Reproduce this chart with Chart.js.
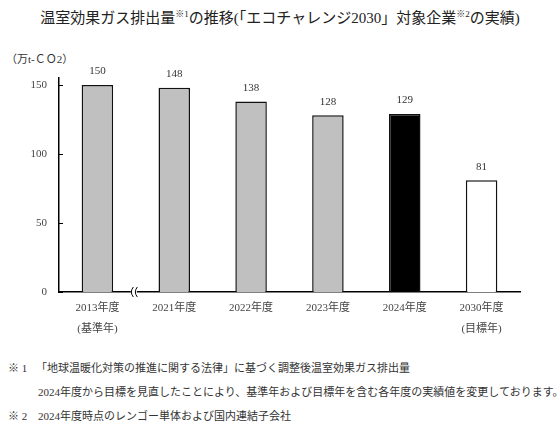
<!DOCTYPE html>
<html><head><meta charset="utf-8">
<script src="https://cdn.jsdelivr.net/npm/chart.js@4"></script>
<style>
body{margin:0;width:560px;height:431px;position:relative;background:#fff;font-family:"Liberation Serif","Noto Sans CJK JP",serif;color:#333;overflow:hidden}
#c{position:absolute;left:0;top:0}
.t{position:absolute;white-space:nowrap}
</style></head><body>
<div class="t" style="left:0;width:560px;text-align:center;top:6px;font-size:15px;color:#222">温室効果ガス排出量<sup style="font-size:9px">※1</sup>の推移(「エコチャレンジ2030」対象企業<sup style="font-size:9px">※2</sup>の実績)</div>
<div class="t" style="left:6px;top:50px;font-size:11px">（万t-ＣＯ2）</div>
<canvas id="c" width="560" height="340"></canvas>
<div class="t" style="left:8px;top:359px;font-size:11px">※ 1</div>
<div class="t" style="left:36px;top:359px;font-size:11px">「地球温暖化対策の推進に関する法律」に基づく調整後温室効果ガス排出量</div>
<div class="t" style="left:38px;top:383px;font-size:11px">2024年度から目標を見直したことにより、基準年および目標年を含む各年度の実績値を変更しております。</div>
<div class="t" style="left:8px;top:407px;font-size:11px">※ 2</div>
<div class="t" style="left:38px;top:407px;font-size:11px">2024年度時点のレンゴー単体および国内連結子会社</div>
<script>
const categories = [["2013年度","(基準年)"],["2021年度"],["2022年度"],["2023年度"],["2024年度"],["2030年度","(目標年)"]];
const values = [150,148,138,128,129,81];
const barColors = ["#c0c0c0","#c0c0c0","#c0c0c0","#c0c0c0","#000000","#ffffff"];
const yTicks = [0,50,100,150];
const FONT = '"Liberation Serif","Noto Sans CJK JP",serif';

const deco = {
  id:'deco',
  afterDatasetsDraw(chart){
    const ctx = chart.ctx, y = chart.scales.y, x = chart.scales.x, ca = chart.chartArea;
    ctx.save();
    ctx.strokeStyle = '#000'; ctx.lineWidth = 1;
    yTicks.forEach(v=>{
      const py = Math.round(y.getPixelForValue(v))+0.5;
      ctx.beginPath(); ctx.moveTo(ca.left, py); ctx.lineTo(ca.left+4, py); ctx.stroke();
    });
    ctx.fillStyle = '#333'; ctx.font = '11px '+FONT; ctx.textAlign='center'; ctx.textBaseline='bottom';
    const meta = chart.getDatasetMeta(0);
    meta.data.forEach((b,i)=>{ ctx.fillText(String(values[i]), b.x, b.y-8); });
    const bx = (x.getPixelForValue(0)+x.getPixelForValue(1))/2 - 2;
    const by = y.getPixelForValue(0);
    ctx.fillStyle='#fff'; ctx.fillRect(bx-3, by-2, 6, 4);
    ctx.strokeStyle='#000'; ctx.lineWidth=1;
    [-2,2].forEach(o=>{
      ctx.beginPath();
      ctx.moveTo(bx+o+1.5, by-5);
      ctx.quadraticCurveTo(bx+o-2.5, by, bx+o+1.5, by+5);
      ctx.stroke();
    });
    ctx.restore();
  }
};

new Chart(document.getElementById('c'), {
  type:'bar',
  data:{ labels:categories, datasets:[{ data:values, backgroundColor:barColors, borderColor:'#111', borderWidth:1.5, borderSkipped:'bottom', barPercentage:0.82, categoryPercentage:0.5 }]},
  options:{
    responsive:false, animation:false,
    layout:{ padding:{ left:0, top:78, right:40, bottom:0 } },
    plugins:{ legend:{display:false}, tooltip:{enabled:false}, title:{display:false} },
    scales:{
      x:{
        grid:{ display:false, drawTicks:false },
        border:{ color:'#000', width:1.5 },
        ticks:{ color:'#444', font:{ family:FONT, size:11, lineHeight:1.9 }, padding:6, maxRotation:0, autoSkip:false },
        afterFit(s){ s.height = 48; }
      },
      y:{
        min:0, max:155,
        afterBuildTicks(s){ s.ticks = yTicks.map(v=>({value:v})); },
        grid:{ display:false, drawTicks:false },
        border:{ color:'#000', width:1.5 },
        ticks:{ color:'#444', font:{ family:FONT, size:11 }, padding:12 },
        afterFit(s){ s.width = 59; }
      }
    }
  },
  plugins:[deco]
});
</script>
</body></html>
